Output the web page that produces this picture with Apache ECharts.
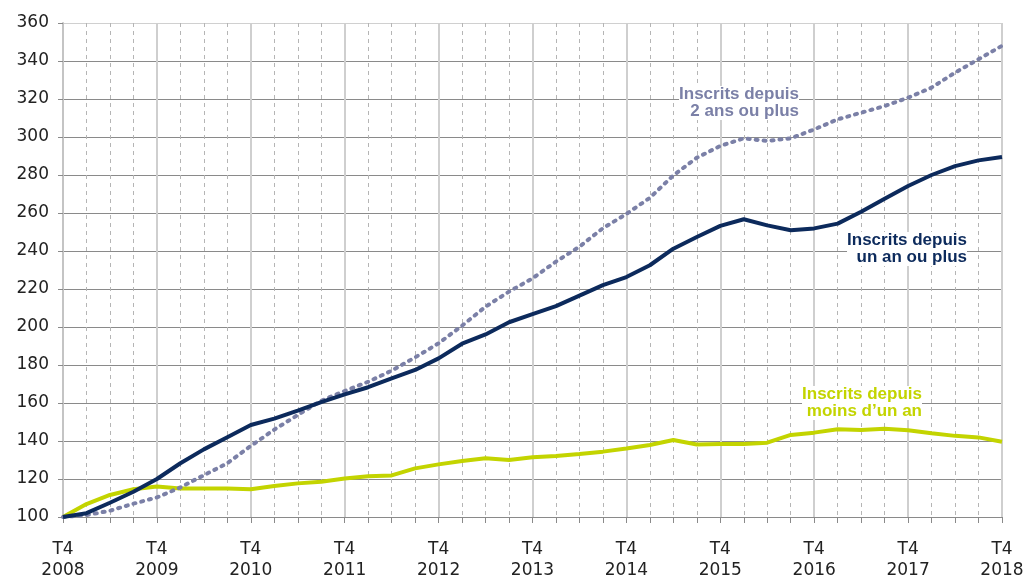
<!DOCTYPE html>
<html>
<head>
<meta charset="utf-8">
<script src="https://cdn.jsdelivr.net/npm/echarts@6/dist/echarts.min.js"></script>
<style>
  html, body { margin: 0; padding: 0; background: #fff; }
  #chart { width: 1025px; height: 577px; }
</style>
</head>
<body>
<div id="chart"></div>
<script>
// trimestres T4 2008 -> T4 2018 (base 100 au T4 2008)
var quarters = [];
for (var y = 2008; y <= 2018; y++) {
    var qs = y === 2008 ? ['T4'] : ['T1', 'T2', 'T3', 'T4'];
    qs.forEach(function (q) { quarters.push(q + ' ' + y); });
}

var unAnOuPlus = [100, 102, 107.5, 113.3, 120, 128.3, 135.6, 142, 148.4, 151.8, 156, 160.5, 164.5,
    168.3, 173, 177.4, 183.5, 191.2, 196.1, 202.5, 206.8, 211, 216.5, 222, 226.3,
    232.5, 241.2, 247.4, 253.2, 256.7, 253.5, 250.9, 251.9, 254.4, 260.7, 267.5, 274.2,
    280, 284.7, 287.7, 289.5];

var deuxAnsOuPlus = [100, 101, 103.3, 107, 110.3, 115.6, 122, 128.3, 137.4, 146, 153.7, 161.2, 166.3,
    171.2, 177, 184, 191.4, 200.7, 210.7, 218.6, 225.6, 234.4, 242.3, 252, 259.5,
    268, 279.8, 289.1, 295.3, 299.3, 297.9, 299.3, 304, 309.3, 312.8, 316.3, 320.7,
    326, 333.9, 340.9, 348];

var moinsUnAn = [100, 106.8, 111.6, 114.6, 116, 115, 115, 115, 114.6, 116.3, 117.7, 118.6, 120.3,
    121.5, 121.9, 125.6, 127.7, 129.5, 130.9, 130, 131.4, 132.1, 133.2, 134.4, 136,
    137.9, 140.5, 138.2, 138.4, 138.4, 139.1, 143.2, 144.4, 146.2, 145.8, 146.4, 145.7,
    144.1, 142.7, 141.9, 139.6];

var mycharts = echarts.init(document.getElementById('chart'));

function xLabel(value, index) {
    // une étiquette par an : "T4" sur la première ligne, l'année dessous
    var p = value.split(' ');
    return p[0] + '\n' + p[1];
}

var hGridColors = [];
for (var k = 0; k < 13; k++) hGridColors.push('#8a8a8a');
hGridColors.push('#d0d0d0');

var labelFont = 'bold 17px "Liberation Sans", Arial, sans-serif';

function note(text, color, right, top) {
    return {
        type: 'text', right: right, top: top, z: 10,
        style: {
            text: text, align: 'right', textAlign: 'right',
            font: labelFont, fill: color,
            lineHeight: 17, backgroundColor: '#fff'
        }
    };
}

var optionObj = {
    animation: false,
    grid: { left: 63, right: 23, top: 23, bottom: 60, containLabel: false, outerBoundsMode: 'none' },
    xAxis: [
        {
            type: 'category',
            data: quarters,
            boundaryGap: false,
            axisLine: { lineStyle: { color: '#8a8a8a', width: 1 } },
            axisTick: { show: true, interval: 0, length: 6, lineStyle: { color: '#8a8a8a' } },
            axisLabel: {
                interval: 3, margin: 22, fontFamily: 'DejaVu Sans', fontSize: 17,
                color: '#222', lineHeight: 21, formatter: xLabel
            },
            splitLine: { show: true, interval: 0, lineStyle: { color: '#b5b5b5', type: [4, 4], width: 1 } }
        },
        {
            // trait plein pour chaque T4
            type: 'category',
            data: quarters,
            boundaryGap: false,
            position: 'bottom',
            axisLine: { show: false },
            axisTick: { show: false },
            axisLabel: { show: false },
            splitLine: { show: true, interval: 3, lineStyle: { color: '#cfcfcf', width: 2 } }
        }
    ],
    yAxis: {
        type: 'value',
        min: 100,
        max: 360,
        interval: 20,
        axisLine: { show: true, lineStyle: { color: '#c4c4c4', width: 2 } },
        axisTick: { show: true, length: 5, lineStyle: { color: '#8a8a8a' } },
        axisLabel: { margin: 14, fontFamily: 'DejaVu Sans', fontSize: 17, color: '#222' },
        splitLine: { show: true, lineStyle: { color: hGridColors, width: 1 } }
    },
    series: [
        {
            name: 'Inscrits depuis moins d\'un an',
            type: 'line',
            data: moinsUnAn,
            symbol: 'none',
            lineStyle: { color: '#c3d400', width: 4 },
            z: 3
        },
        {
            name: 'Inscrits depuis 2 ans ou plus',
            type: 'line',
            data: deuxAnsOuPlus,
            symbol: 'none',
            lineStyle: { color: '#7b80a7', width: 4, type: [2, 6], cap: 'round' },
            z: 4
        },
        {
            name: 'Inscrits depuis un an ou plus',
            type: 'line',
            data: unAnOuPlus,
            symbol: 'none',
            lineStyle: { color: '#0c2a5c', width: 4 },
            z: 5
        }
    ],
    graphic: [
        note('Inscrits depuis\n2 ans ou plus', '#7b80a7', 1025 - 799, 86),
        note('Inscrits depuis\nun an ou plus', '#0c2a5c', 1025 - 967, 232),
        note('Inscrits depuis\nmoins d\u2019un an', '#c3d400', 1025 - 922, 386)
    ]
};

mycharts.setOption(optionObj);
window.onresize = function () {
    mycharts.resize();
};
</script>
</body>
</html>
